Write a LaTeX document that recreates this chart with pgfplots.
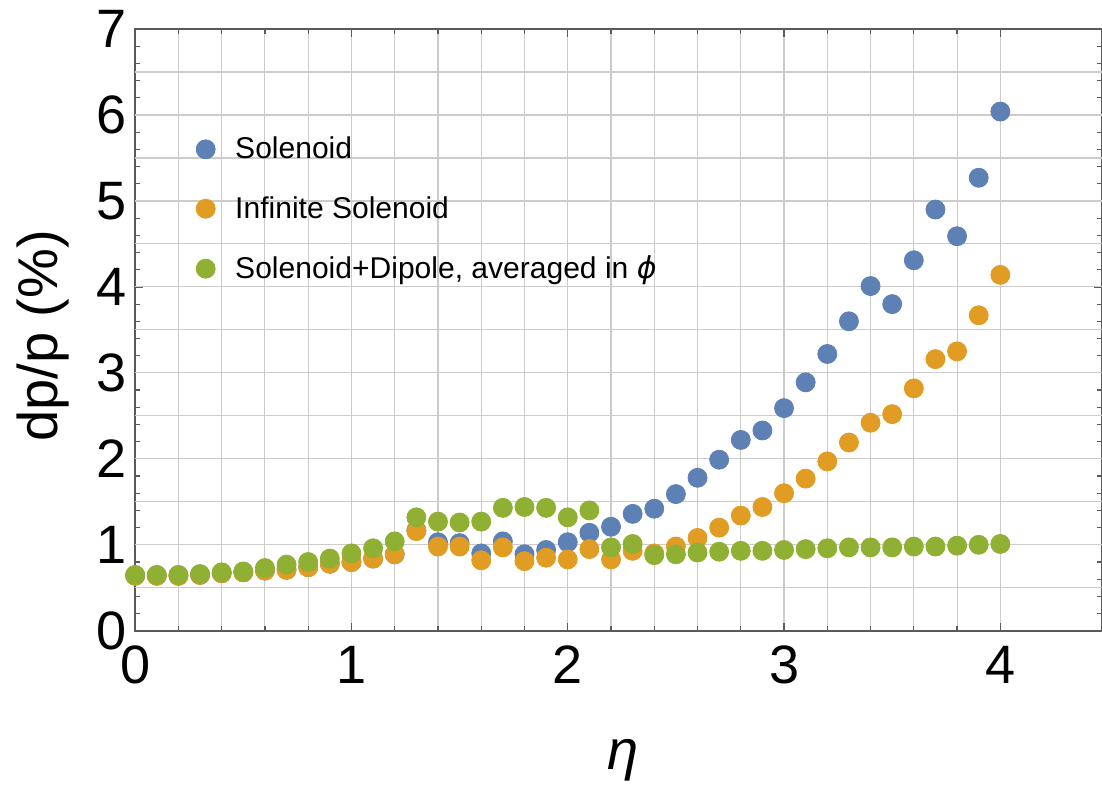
\documentclass[border=0pt]{standalone}
\usepackage{pgfplots}
\pgfplotsset{compat=1.18}
\usepackage{fontspec}
\setmainfont{Liberation Sans}
\newfontfamily\dejavu{DejaVu Sans}
\definecolor{mblue}{RGB}{94,129,181}
\definecolor{morange}{RGB}{225,156,36}
\definecolor{mgreen}{RGB}{143,176,50}
\definecolor{frame}{RGB}{90,90,90}
\pgfplotstableread{
x y
0.0 0.64
0.1 0.64
0.2 0.64
0.3 0.65
0.4 0.67
0.5 0.68
0.6 0.70
0.7 0.71
0.8 0.74
0.9 0.78
1.0 0.80
1.1 0.84
1.2 0.89
1.3 1.17
1.4 1.03
1.5 1.02
1.6 0.90
1.7 1.04
1.8 0.89
1.9 0.94
2.0 1.03
2.1 1.14
2.2 1.21
2.3 1.36
2.4 1.42
2.5 1.59
2.6 1.78
2.7 1.99
2.8 2.22
2.9 2.33
3.0 2.59
3.1 2.89
3.2 3.22
3.3 3.60
3.4 4.01
3.5 3.80
3.6 4.31
3.7 4.90
3.8 4.59
3.9 5.27
4.0 6.04
}\solenoid
\pgfplotstableread{
x y
0.0 0.64
0.1 0.64
0.2 0.64
0.3 0.65
0.4 0.67
0.5 0.68
0.6 0.70
0.7 0.71
0.8 0.74
0.9 0.78
1.0 0.80
1.1 0.84
1.2 0.89
1.3 1.16
1.4 0.98
1.5 0.98
1.6 0.82
1.7 0.97
1.8 0.81
1.9 0.85
2.0 0.83
2.1 0.95
2.2 0.83
2.3 0.93
2.4 0.90
2.5 0.98
2.6 1.08
2.7 1.20
2.8 1.34
2.9 1.44
3.0 1.60
3.1 1.77
3.2 1.97
3.3 2.19
3.4 2.42
3.5 2.52
3.6 2.82
3.7 3.16
3.8 3.25
3.9 3.67
4.0 4.14
}\infsol
\pgfplotstableread{
x y
0.0 0.65
0.1 0.65
0.2 0.65
0.3 0.66
0.4 0.68
0.5 0.69
0.6 0.73
0.7 0.77
0.8 0.80
0.9 0.84
1.0 0.90
1.1 0.96
1.2 1.04
1.3 1.32
1.4 1.27
1.5 1.26
1.6 1.27
1.7 1.43
1.8 1.44
1.9 1.43
2.0 1.32
2.1 1.40
2.2 0.97
2.3 1.01
2.4 0.88
2.5 0.89
2.6 0.91
2.7 0.92
2.8 0.93
2.9 0.93
3.0 0.94
3.1 0.95
3.2 0.96
3.3 0.97
3.4 0.97
3.5 0.97
3.6 0.98
3.7 0.98
3.8 0.99
3.9 1.00
4.0 1.01
}\soldip
\begin{document}
\begin{tikzpicture}
\begin{axis}[
  scale only axis,
  width=482.8pt, height=300.5pt,
  xmin=0, xmax=4.47, ymin=0, ymax=7,
  xtick={0,1,2,3,4}, minor x tick num=4,
  ytick={0,1,2,3,4,5,6,7}, minor y tick num=4,
  xmajorgrids, xminorgrids,
  extra y ticks={0.5,1,1.5,2,2.5,3,3.5,4,4.5,5,5.5,6,6.5},
  extra y tick labels={},
  extra y tick style={grid=major, major tick length=0pt},
  major grid style={black!20, line width=0.55pt},
  minor grid style={black!20, line width=0.55pt},
  axis line style={frame, line width=0.8pt},
  tick style={frame, line width=0.6pt},
  major tick length=4pt, minor tick length=2.5pt,
  tick align=inside,
  /pgf/number format/assume math mode=true,
  tick label style={font=\fontsize{27}{30}\selectfont},
  xticklabel style={yshift=-4pt},
  yticklabel style={xshift=-1pt},
  label style={font=\fontsize{28}{32}\selectfont},
  xlabel={\textit{η}},
  ylabel={dp/p (\%)},
  xlabel style={at={(axis description cs:0.505,-0.215)}, anchor=center},
  ylabel style={at={(axis description cs:-0.095,0.49)}, anchor=center},
  legend style={draw=none, fill=none, at={(0.0627,0.828)}, anchor=north west,
    font=\fontsize{15}{18}\selectfont, row sep=13.3pt, column sep=8pt,
    inner sep=0pt, legend cell align=left},
  legend image code/.code={\draw[#1] plot coordinates {(0pt,0pt)};},
]
\addplot[only marks, mark=*, mark size=4.75pt, mark options={draw=mblue, fill=mblue}] table {\solenoid};
\addlegendentry{Solenoid}
\addplot[only marks, mark=*, mark size=4.75pt, mark options={draw=morange, fill=morange}] table {\infsol};
\addlegendentry{Infinite Solenoid}
\addplot[only marks, mark=*, mark size=4.75pt, mark options={draw=mgreen, fill=mgreen}] table {\soldip};
\addlegendentry{Solenoid+Dipole, averaged in {\dejavu\itshape ϕ}}
\end{axis}
\pgfresetboundingbox
\path ([xshift=-67.5pt,yshift=-77pt]current axis.south west) rectangle ([yshift=14.5pt]current axis.north east);
\end{tikzpicture}
\end{document}
